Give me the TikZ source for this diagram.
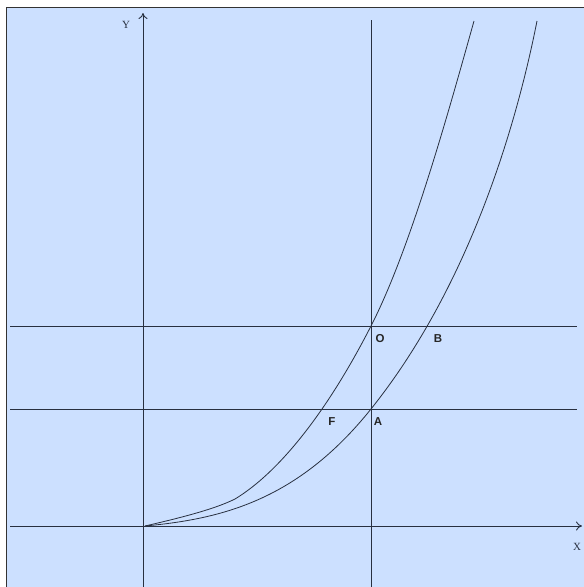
\documentclass[tikz,border=0pt]{standalone}
\usepackage{fontspec}
\setmainfont{Liberation Serif}
\newfontfamily\lblfont{Liberation Sans}
\usetikzlibrary{arrows.meta}
\definecolor{bgblue}{RGB}{204,224,255}
\definecolor{ink}{RGB}{40,48,64}
\begin{document}
\begin{tikzpicture}[x=1pt,y=-1pt,
  line/.style={draw=ink,line width=0.9pt},
  curve/.style={draw=ink,line width=0.8pt},
  axis/.style={draw=ink,line width=0.9pt,-{To[length=6pt,width=9pt]}},
  ptlabel/.style={font=\lblfont\bfseries\fontsize{11.5}{12}\selectfont,inner sep=0pt,text=black!85},
  axlabel/.style={font=\fontsize{11}{12}\selectfont,inner sep=0pt,text=ink}]
\useasboundingbox (0,0) rectangle (584,587);
\fill[white] (0,0) rectangle (584,587);
\fill[bgblue] (6,7) rectangle (584,587);
\draw[black!80,line width=1pt] (6,587) -- (6,7) -- (584,7);
% coordinates
\coordinate (o) at (145,526);
\coordinate (xl) at (10,526);
\coordinate (xr) at (582,526);
\coordinate (yb) at (143,587);
\coordinate (yt) at (143,13);
\coordinate (vb) at (371,587);
\coordinate (vt) at (371,20);
\coordinate (h1l) at (10,326);
\coordinate (h1r) at (577,326);
\coordinate (h2l) at (10,409);
\coordinate (h2r) at (577,409);
\coordinate (k1) at (235,499);
\coordinate (pO) at (371,326);
\coordinate (t1) at (474,21);
\coordinate (pA) at (371,409);
\coordinate (t2) at (537,21);
% lines
\draw[axis] (xl) -- (xr);
\draw[axis] (yb) -- (yt);
\draw[line] (vb) -- (vt);
\draw[line] (h1l) -- (h1r);
\draw[line] (h2l) -- (h2r);
% curves
\draw[curve] (o) .. controls (175,519) and (213,510) .. (k1)
  .. controls (278,473) and (326,414) .. (pO)
  .. controls (411,248) and (449,110) .. (t1);
\draw[curve] (o) .. controls (220,519) and (297,501.5) .. (pA)
  .. controls (461,296.5) and (512,147) .. (t2);
% labels
\node[ptlabel] (O) at (380,339) {O};
\node[ptlabel] (B) at (438,339) {B};
\node[ptlabel] (F) at (332,422) {F};
\node[ptlabel] (A) at (378,422) {A};
\node[axlabel] (Y) at (126,25) {Y};
\node[axlabel] (X) at (577,547) {X};
\end{tikzpicture}
\end{document}
